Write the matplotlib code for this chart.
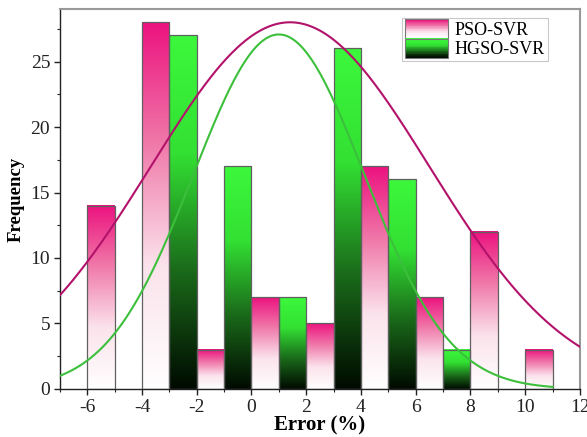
import numpy as np
import matplotlib
matplotlib.use("Agg")
import matplotlib.pyplot as plt
from matplotlib.colors import LinearSegmentedColormap
from matplotlib.legend_handler import HandlerBase
from matplotlib.patches import Rectangle
from matplotlib.ticker import MultipleLocator

plt.rcParams['font.family'] = ['Liberation Serif', 'DejaVu Serif']
plt.rcParams['axes.unicode_minus'] = False

# Histogram bins (left edges, width 1) and counts
pso_left = [-6, -4, -2, 0, 2, 4, 6, 8, 10]
pso_counts = [14, 28, 3, 7, 5, 17, 7, 12, 3]
hgso_left = [-3, -1, 1, 3, 5, 7]
hgso_counts = [27, 17, 7, 26, 16, 3]
bin_width = 1.0

# Fitted normal curves (peak height, mean, std) and x-range
pso_fit = (28.0, 1.41, 5.09)
pso_range = (-7, 12)
hgso_fit = (27.07, 1.0, 3.115)
hgso_range = (-7, 11)

labels = ["PSO-SVR", "HGSO-SVR"]
x_ticks = [-6, -4, -2, 0, 2, 4, 6, 8, 10, 12]
y_ticks = [0, 5, 10, 15, 20, 25]

pink_cmap = LinearSegmentedColormap.from_list("pink", ["#FFFFFF", "#FBE3EC", "#F07AAA", "#EC127F"])
green_cmap = LinearSegmentedColormap.from_list("green", ["#000A00", "#1A6A1A", "#33E033", "#3CF83C"])

fig = plt.figure(figsize=(5.87, 4.37), dpi=100)
ax = fig.add_axes([0.102, 0.110, 0.886, 0.869])

grad = np.linspace(0, 1, 256).reshape(-1, 1)

def draw_bars(lefts, counts, cmap):
    for l, c in zip(lefts, counts):
        ax.imshow(grad, extent=[l, l + bin_width, 0, c], origin='lower',
                  cmap=cmap, aspect='auto', interpolation='bicubic', zorder=2)
    ax.bar(lefts, counts, width=bin_width, align='edge', facecolor='none',
           edgecolor='#606060', linewidth=0.9, zorder=3)

draw_bars(pso_left, pso_counts, pink_cmap)
draw_bars(hgso_left, hgso_counts, green_cmap)

def gauss(fit, rng):
    a, mu, s = fit
    x = np.linspace(rng[0], rng[1], 400)
    return x, a * np.exp(-(x - mu) ** 2 / (2 * s ** 2))

xp, yp = gauss(pso_fit, pso_range)
ax.plot(xp, yp, color='#B3126B', lw=1.5, zorder=4)
xg, yg = gauss(hgso_fit, hgso_range)
ax.plot(xg, yg, color='#3CC03C', lw=1.5, zorder=4)

ax.set_xlim(-7, 12)
ax.set_ylim(0, 29)
ax.set_xticks(x_ticks)
ax.set_yticks(y_ticks)
ax.xaxis.set_minor_locator(MultipleLocator(1))
ax.yaxis.set_minor_locator(MultipleLocator(2.5))
ax.tick_params(which='major', direction='out', length=4, width=1, labelsize=14, colors='#222222')
ax.tick_params(which='minor', direction='out', length=2.5, width=0.8, colors='#222222')
ax.tick_params(axis='x', which='major', pad=3)
ax.tick_params(axis='y', which='major', pad=3)
for sp in ['top', 'right']:
    ax.spines[sp].set_color('#999999')
    ax.spines[sp].set_linewidth(1.5)
for sp in ['left', 'bottom']:
    ax.spines[sp].set_color('#222222')
    ax.spines[sp].set_linewidth(1.0)

ax.set_xlabel("Error (%)", fontsize=15, fontweight='bold', labelpad=0)
ax.set_ylabel("Frequency", fontsize=13.5, fontweight='bold', labelpad=4)


class GradHandler(HandlerBase):
    def __init__(self, cmap):
        super().__init__()
        self.cmap = cmap

    def create_artists(self, legend, orig_handle, xdescent, ydescent, width, height, fontsize, trans):
        arts = []
        n = 24
        h = height * 1.25
        y0 = -ydescent - (h - height) / 2
        for i in range(n):
            arts.append(Rectangle((-xdescent, y0 + h * i / n), width, h / n + 0.3,
                                  facecolor=self.cmap(i / (n - 1)),
                                  edgecolor='none', transform=trans))
        arts.append(Rectangle((-xdescent, y0), width, h, facecolor='none',
                              edgecolor='#777777', lw=0.8, transform=trans))
        return arts


h1 = Rectangle((0, 0), 1, 1)
h2 = Rectangle((0, 0), 1, 1)
leg = ax.legend([h1, h2], labels, loc='upper right', bbox_to_anchor=(0.945, 0.985),
                handler_map={h1: GradHandler(pink_cmap), h2: GradHandler(green_cmap)},
                fontsize=13, frameon=True, fancybox=False, edgecolor='#BBBBBB',
                handlelength=2.4, handleheight=0.9, handletextpad=0.35, labelspacing=0.1,
                borderpad=0.15, borderaxespad=0.2)
leg.get_frame().set_linewidth(0.8)

fig.savefig("out.png", dpi=100)
